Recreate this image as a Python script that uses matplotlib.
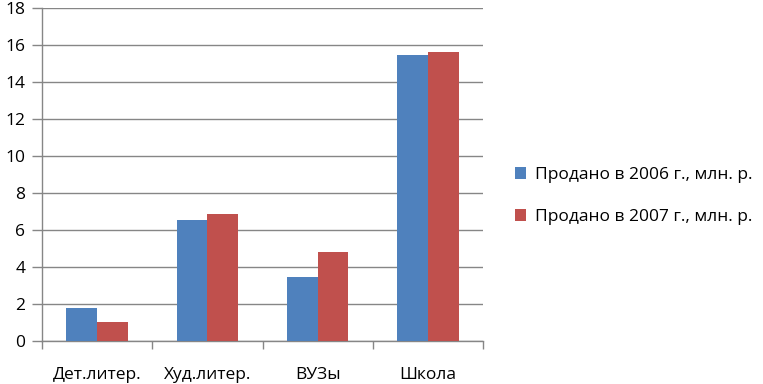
import matplotlib
matplotlib.use("Agg")
import matplotlib.pyplot as plt
import numpy as np

categories = ["Дет.литер.", "Худ.литер.", "ВУЗы", "Школа"]
sold_2006 = [1.8, 6.55, 3.48, 15.47]
sold_2007 = [1.05, 6.87, 4.81, 15.63]
series_names = ["Продано в 2006 г., млн. р.", "Продано в 2007 г., млн. р."]
yticks = [0, 2, 4, 6, 8, 10, 12, 14, 16, 18]

plt.rcParams['font.family'] = ['Open Sans', 'DejaVu Sans']

fig = plt.figure(figsize=(7.63, 3.84), dpi=100)
ax = fig.add_axes([42/763, 1-341/384, (483-42)/763, (341-8.3)/384])

x = np.arange(len(categories))
w = 0.28
grid_c = "#868686"
fs = 12.5
b1 = ax.bar(x - w/2, sold_2006, w, color="#4F81BD", label=series_names[0], zorder=3)
b2 = ax.bar(x + w/2, sold_2007, w, color="#C0504D", label=series_names[1], zorder=3)

ax.set_xlim(-0.5, len(categories) - 0.5)
ax.set_ylim(0, 18)
ax.set_yticks(yticks)
ax.set_yticklabels([str(v) for v in yticks], fontsize=fs)
ax.yaxis.grid(True, color=grid_c, linewidth=1)
ax.set_axisbelow(True)

ax.set_xticks(x)
ax.set_xticklabels(categories, fontsize=fs)
ax.tick_params(axis='x', length=0, pad=19)
ax.set_xticks(np.arange(-0.5, len(categories)), minor=True)
ax.tick_params(axis='x', which='minor', length=6, color=grid_c, width=1)
ax.tick_params(axis='y', length=7, color=grid_c, width=1, pad=5)

for s in ["top", "right"]:
    ax.spines[s].set_visible(False)
for s in ["left", "bottom"]:
    ax.spines[s].set_color(grid_c)
    ax.spines[s].set_linewidth(1)

fig.legend(handles=[b1, b2], loc="center left", bbox_to_anchor=(515/763, 1-196/384),
           frameon=False, fontsize=fs, handlelength=0.65, handleheight=0.65,
           handletextpad=0.5, labelspacing=1.5, borderaxespad=0, borderpad=0)

fig.savefig("out.png", dpi=100)
